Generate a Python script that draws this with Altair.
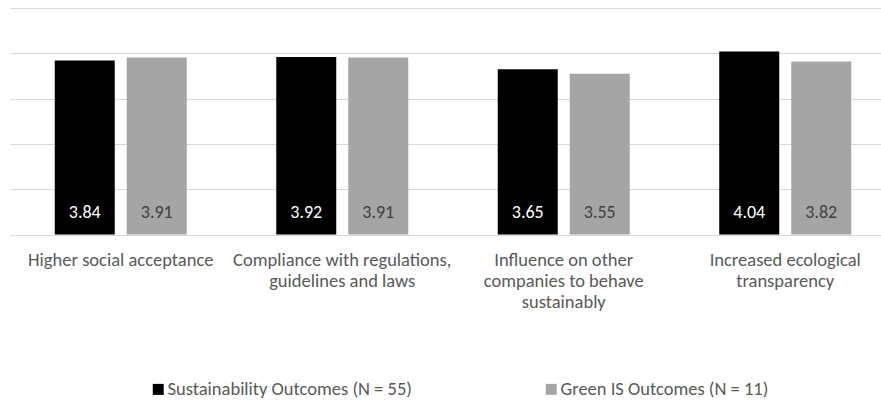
import json
import altair as alt
import pandas as pd

# Category labels, one list entry per printed line
category_lines = [
    ["Higher social acceptance"],
    ["Compliance with regulations,", "guidelines and laws"],
    ["Influence on other", "companies to behave", "sustainably"],
    ["Increased ecological", "transparency"],
]
categories = [" ".join(lines) for lines in category_lines]

series = ["Sustainability Outcomes (N = 55)", "Green IS Outcomes (N = 11)"]
sustainability_values = [3.84, 3.92, 3.65, 4.04]
green_is_values = [3.91, 3.91, 3.55, 3.82]

colors = ["#000000", "#a5a5a5"]
label_colors = ["#ffffff", "#404040"]

rows = []
for cat, a, b in zip(categories, sustainability_values, green_is_values):
    rows.append({"category": cat, "series": series[0], "value": a, "label": f"{a:.2f}"})
    rows.append({"category": cat, "series": series[1], "value": b, "label": f"{b:.2f}"})
df = pd.DataFrame(rows)

FONT = "Carlito, Calibri, Lato, sans-serif"
TEXT_SIZE = 18.5
line_map = {" ".join(l): l for l in category_lines}
label_expr = json.dumps(line_map) + "[datum.label]"

x = alt.X(
    "category:N",
    sort=categories,
    scale=alt.Scale(range=[0, 886], paddingInner=0.404, paddingOuter=0.202),
    axis=alt.Axis(
        title=None,
        labelAngle=0,
        labelExpr=label_expr,
        labelFont=FONT,
        labelFontSize=TEXT_SIZE,
        labelColor="#595959",
        labelLineHeight=21,
        labelPadding=16,
        labelBaseline="top",
        ticks=False,
        domain=False,
        labelLimit=300,
    ),
)
y = alt.Y(
    "value:Q",
    scale=alt.Scale(domain=[0, 5], nice=False),
    axis=alt.Axis(
        title=None,
        values=[0, 1, 2, 3, 4, 5],
        labels=False,
        ticks=False,
        domain=False,
        grid=True,
        gridColor="#d9d9d9",
        gridWidth=1.2,
    ),
)
x_off = alt.XOffset(
    "series:N",
    sort=series,
    scale=alt.Scale(paddingInner=1 / 6, paddingOuter=0),
)

bars = alt.Chart(df).mark_bar(size=60).encode(
    x=x,
    xOffset=x_off,
    y=y,
    color=alt.Color(
        "series:N",
        sort=series,
        scale=alt.Scale(domain=series, range=colors),
        legend=alt.Legend(
            title=None,
            orient="none",
            direction="horizontal",
            legendX=139,
            legendY=372,
            padding=0,
            symbolType="square",
            symbolSize=121,
            symbolStrokeWidth=0,
            labelFont=FONT,
            labelFontSize=TEXT_SIZE,
            labelColor="#595959",
            labelOffset=0,
            columnPadding=130,
            labelLimit=400,
        ),
    ),
)

labels = alt.Chart(df).mark_text(
    font=FONT, fontSize=18, baseline="middle", dy=-22
).encode(
    x=alt.X("category:N", sort=categories),
    xOffset=alt.XOffset("series:N", sort=series),
    y=alt.datum(0),
    text="label:N",
    color=alt.Color(
        "series:N",
        sort=series,
        scale=alt.Scale(domain=series, range=label_colors),
        legend=None,
    ),
)

chart = (
    alt.layer(bars, labels)
    .resolve_scale(color="independent")
    .properties(
        width=871,
        height=226.5,
        padding={"left": 10, "top": 8, "right": 0, "bottom": 168.5},
        autosize=alt.AutoSizeParams(type="none"),
        background="#ffffff",
    )
    .configure_view(stroke=None)
)

chart.save("out.html", embed_options={"renderer": "svg", "actions": False})
